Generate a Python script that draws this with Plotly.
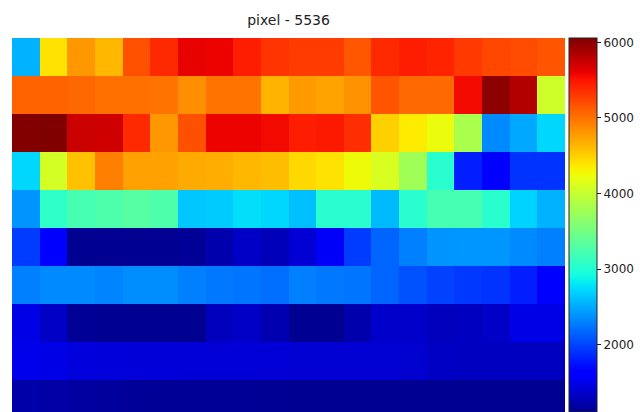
import numpy as np
import plotly.graph_objects as go

title_text = "pixel - 5536"

row0 = [2540, 4400, 4800, 4630, 5180, 5390, 5610, 5590, 5450, 5330, 5290, 5290, 5140, 5390, 5450, 5420, 5300, 5230, 5200, 5150]
row1 = [5080, 5080, 5050, 5010, 5010, 4990, 4850, 4990, 4990, 4650, 4780, 4740, 4830, 5150, 5040, 5040, 5560, 6000, 5840, 4050]
row2 = [6050, 6058, 5730, 5720, 5390, 4800, 5180, 5590, 5590, 5560, 5450, 5480, 5360, 4500, 4350, 4225, 3830, 2340, 2490, 2720]
row3 = [2720, 4080, 4580, 4930, 4750, 4750, 4700, 4680, 4630, 4600, 4450, 4400, 4250, 4110, 3770, 3040, 1810, 1590, 1910, 1910]
row4 = [2390, 3080, 3220, 3260, 3310, 3260, 2640, 2660, 2760, 2720, 2600, 3040, 3040, 2580, 3040, 3220, 3220, 3040, 2700, 2540]
row5 = [1960, 1650, 1090, 1040, 1060, 1090, 1130, 1230, 1340, 1280, 1400, 1560, 1960, 2160, 2290, 2390, 2400, 2400, 2340, 2290]
row6 = [2290, 2340, 2340, 2310, 2360, 2360, 2290, 2260, 2240, 2210, 2290, 2260, 2240, 2160, 2060, 1990, 1940, 1910, 1810, 1650]
row7 = [1480, 1340, 1130, 1040, 1034, 1040, 1110, 1300, 1340, 1250, 1040, 1060, 1230, 1360, 1360, 1300, 1320, 1340, 1480, 1480]
row8 = [1500, 1480, 1440, 1430, 1420, 1420, 1410, 1410, 1410, 1410, 1390, 1390, 1390, 1390, 1380, 1330, 1320, 1320, 1320, 1320]
row9 = [1210, 1200, 1180, 1160, 1140, 1130, 1130, 1130, 1130, 1120, 1110, 1100, 1090, 1080, 1070, 1060, 1050, 1040, 1040, 1040]

z_min = 1034
z_max = 6058
cbar_ticks = [2000, 3000, 4000, 5000, 6000]

z = [row0, row1, row2, row3, row4, row5, row6, row7, row8, row9]

# matplotlib "jet" colormap
def jet_channel(pts, t):
    xs = [p[0] for p in pts]
    ys = [p[1] for p in pts]
    return float(np.interp(t, xs, ys))

R = [(0, 0), (0.35, 0), (0.66, 1), (0.89, 1), (1, 0.5)]
G = [(0, 0), (0.125, 0), (0.375, 1), (0.64, 1), (0.91, 0), (1, 0)]
B = [(0, 0.5), (0.11, 1), (0.34, 1), (0.65, 0), (1, 0)]

W, H = 640, 412
ml, mr, mt, mb = 12, 75, 38, 0
plot_h = H - mt - mb
row_px = 37.96
full_h = row_px * 10

# the full bar would span full_h px; only plot_h px of it are visible
vis_frac = plot_h / full_h
z_lo = z_max - (z_max - z_min) * vis_frac

stops = np.linspace(0, 1, 65)
jet = []
for s in stops:
    t = 1 - (1 - s) * vis_frac  # map visible part of the bar onto jet
    r = round(255 * jet_channel(R, t))
    g = round(255 * jet_channel(G, t))
    b = round(255 * jet_channel(B, t))
    jet.append([float(s), f"rgb({r},{g},{b})"])

fig = go.Figure(
    go.Heatmap(
        z=z,
        colorscale=jet,
        zmin=z_lo,
        zmax=z_max,
        xgap=0,
        ygap=0,
        colorbar=dict(
            x=1.008,
            xanchor="left",
            y=1,
            yanchor="top",
            len=1,
            lenmode="fraction",
            thickness=28,
            thicknessmode="pixels",
            xpad=0,
            ypad=0,
            outlinewidth=1,
            outlinecolor="#222",
            tickvals=cbar_ticks,
            ticktext=[str(v) for v in cbar_ticks],
            ticks="outside",
            ticklen=4,
            tickcolor="#222",
            tickfont=dict(family="DejaVu Sans", size=12, color="#222"),
        ),
    )
)

fig.update_xaxes(range=[-0.5, 19.5], showticklabels=False, showgrid=False,
                 zeroline=False, ticks="", showline=False)
fig.update_yaxes(range=[-0.5 + plot_h / row_px, -0.5], showticklabels=False,
                 showgrid=False, zeroline=False, ticks="", showline=False)

fig.update_layout(
    width=W,
    height=H,
    margin=dict(l=ml, r=mr, t=mt, b=mb, pad=0),
    paper_bgcolor="white",
    plot_bgcolor="white",
    title=dict(
        text=title_text,
        x=(ml + (W - ml - mr) / 2) / W,
        xanchor="center",
        y=1 - 20 / H,
        yanchor="middle",
        font=dict(family="DejaVu Sans", size=14, color="#222"),
    ),
)

fig.write_html(
    "out.html",
    config={"displayModeBar": False},
    post_script="document.body.style.margin='0px';document.body.style.overflow='hidden';",
)
